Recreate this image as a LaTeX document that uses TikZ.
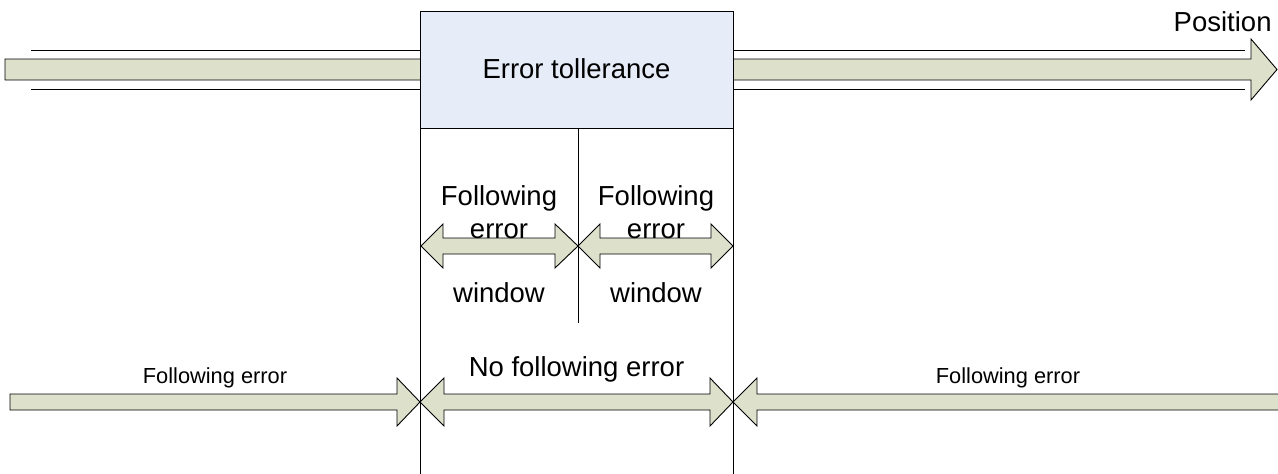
\documentclass[tikz,border=0pt]{standalone}
\usepackage{fontspec}
\setmainfont{Liberation Sans}
\definecolor{ArrowClr}{RGB}{221,224,203}
\definecolor{BoxClr}{RGB}{230,236,248}

\begin{document}
\begin{tikzpicture}[x=1pt,y=-1pt,line width=.9pt,
  bigtxt/.style={font=\fontsize{27.5}{30}\selectfont,inner sep=0pt,anchor=base},
  smalltxt/.style={font=\fontsize{21.8}{24}\selectfont,inner sep=0pt,anchor=base},
  arrowshape/.style={draw=black,fill=ArrowClr,line join=miter}]
\useasboundingbox (0,0) rectangle (1278,474);

% position arrow
\draw[arrowshape] (5,59) -- (1251,59) -- (1251,39) -- (1277,69.5) -- (1251,100)
  -- (1251,80) -- (5,80) -- cycle;
\draw (31,50) -- (1245,50) (31,89) -- (1245,89);

% tolerance box
\coordinate (BoxTL) at (420,11);
\coordinate (BoxBR) at (733,128);
\draw[fill=BoxClr] (BoxTL) rectangle (BoxBR);
\coordinate (L1) at (420,128);  \coordinate (L2) at (420,474);
\coordinate (R1) at (733,128);  \coordinate (R2) at (733,474);
\coordinate (M1) at (578,128);  \coordinate (M2) at (578,323);
\draw (L1) -- (L2) (R1) -- (R2) (M1) -- (M2);

\node[bigtxt] (tol) at (576.5,78) {Error tollerance};
\node[bigtxt,anchor=base east] (pos) at (1272,31) {Position};

% window arrows
\draw[arrowshape] (421,246) -- (443,224) -- (443,238) -- (555,238) -- (555,224)
  -- (578,246) -- (555,268) -- (555,254) -- (443,254) -- (443,268) -- cycle;
\draw[arrowshape] (578,246) -- (600,224) -- (600,238) -- (711,238) -- (711,224)
  -- (733,246) -- (711,268) -- (711,254) -- (600,254) -- (600,268) -- cycle;

\node[bigtxt] (folA) at (499,205) {Following};
\node[bigtxt] (errA) at (499,238) {error};
\node[bigtxt] (winA) at (499,302) {window};
\node[bigtxt] (folB) at (656,205) {Following};
\node[bigtxt] (errB) at (656,238) {error};
\node[bigtxt] (winB) at (656,302) {window};

% following error arrows
\draw[arrowshape] (10,394) -- (397,394) -- (397,378) -- (420,402) -- (397,426)
  -- (397,410) -- (10,410) -- cycle;
\draw[arrowshape] (420,402) -- (444,378) -- (444,394) -- (710,394) -- (710,378)
  -- (733,402) -- (710,426) -- (710,410) -- (444,410) -- (444,426) -- cycle;
\draw[arrowshape] (1290,394) -- (757,394) -- (757,378) -- (733,402) -- (757,426)
  -- (757,410) -- (1290,410);

\node[smalltxt] (ferrL) at (215,383) {Following error};
\node[bigtxt] (noerr) at (576.5,376) {No following error};
\node[smalltxt] (ferrR) at (1008,383) {Following error};

\end{tikzpicture}
\end{document}
